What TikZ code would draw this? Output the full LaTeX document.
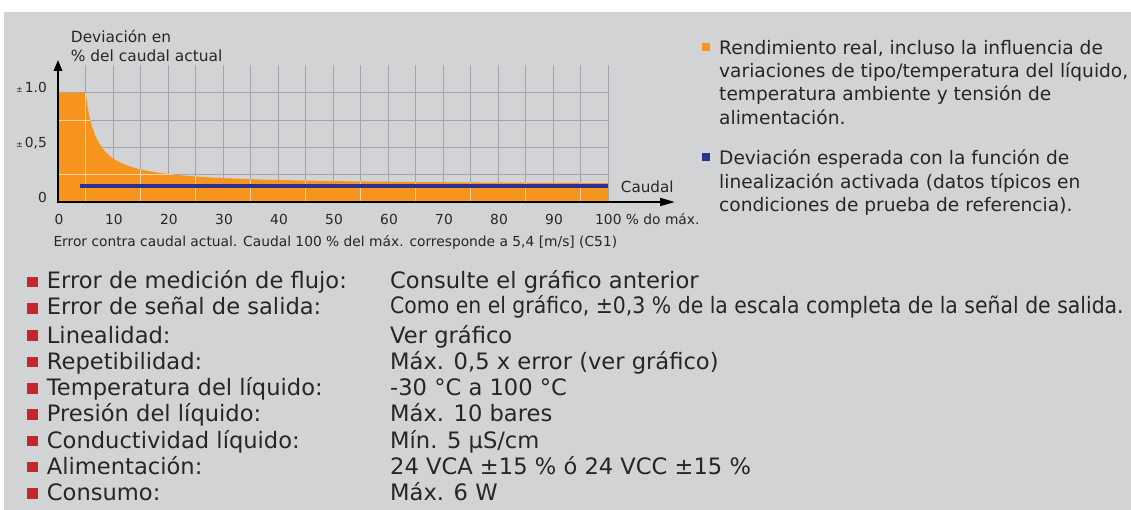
\documentclass[tikz,border=0pt]{standalone}
\usepackage{fontspec}
\setmainfont{DejaVu Sans}
\newfontfamily\condfont{DejaVu Sans}[FakeStretch=0.903]
\usetikzlibrary{arrows.meta}
\definecolor{bggrey}{HTML}{D1D3D4}
\definecolor{gridc}{HTML}{A2A4A7}
\definecolor{orangec}{HTML}{F7941D}
\definecolor{bluec}{HTML}{2E3192}
\definecolor{redc}{HTML}{C1272D}
\definecolor{txt}{HTML}{262626}
\tikzset{
  ax/.style={anchor=base west, inner sep=0pt, text=txt, font=\fontsize{15.4}{18}\selectfont},
  tk/.style={anchor=base, inner sep=0pt, text=txt, font=\fontsize{13.8}{16}\selectfont},
  lg/.style={anchor=base west, inner sep=0pt, text=txt, font=\fontsize{18.6}{22}\selectfont},
  lst/.style={anchor=base west, inner sep=0pt, text=txt, font=\fontsize{22.6}{26}\selectfont},
  sq/.style={inner sep=0pt, minimum size=8pt, draw=none},
  rsq/.style={inner sep=0pt, minimum size=10.5pt, draw=none, fill=redc},
  gridline/.style={draw=gridc, line width=1pt},
  minorlight/.style={draw=white, opacity=0.6, line width=1pt},
  axisline/.style={draw=black, line width=2pt}
}
\begin{document}
\begin{tikzpicture}[x=1pt,y=-1pt]
\fill[white] (0,0) rectangle (1131,510);
\useasboundingbox (0,0) rectangle (1131,510);
\fill[bggrey] (4,12) rectangle (1131,510);

% grid
\foreach \p in {5,10,...,100}
  \draw[gridline] ({58+5.5*\p},65) -- ({58+5.5*\p},202);
\foreach \v in {0.25,0.5,0.75,1}
  \draw[gridline] (58,{202-109.3*\v}) -- (608,{202-109.3*\v});

% orange region
\fill[orangec] (58,202) -- (58,92.7) -- (85.5,92.7)
  -- plot[domain=5:100,samples=160] ({58+5.5*\x},{202-109.3*(0.155+1.725/(\x-2.958))})
  -- (608,202) -- cycle;
\begin{scope}
\clip (58,202) -- (58,92.7) -- (85.5,92.7)
  -- plot[domain=5:100,samples=160] ({58+5.5*\x},{202-109.3*(0.155+1.725/(\x-2.958))})
  -- (608,202) -- cycle;
\foreach \p in {5,15,...,95}
  \draw[minorlight] ({58+5.5*\p},65) -- ({58+5.5*\p},202);
\foreach \v in {0.25,0.75}
  \draw[minorlight] (58,{202-109.3*\v}) -- (608,{202-109.3*\v});
\end{scope}

% blue line
\coordinate (bl1) at (80,186);
\coordinate (bl2) at (608,186);
\draw[bluec, line width=3.8pt] (bl1) -- (bl2);

% axes
\coordinate (O) at (58,202);
\coordinate (ytip) at (58,60);
\coordinate (xtip) at (675,202);
\draw[axisline, {Triangle[length=11pt,width=8.5pt]}-{Triangle[length=15pt,width=8pt]}] (ytip) -- (O) -- (xtip);

% axis texts
\node[ax] (ylab1) at (70.7,42.3) {Deviación en};
\node[ax] (ylab2) at (70.7,61.7) {\% del caudal actual};
\node[ax, font=\fontsize{15.2}{18}\selectfont] (xlab) at (620.7,192.7) {Caudal};
\node[tk, anchor=base east] (yt1) at (47,92.7) {{\fontsize{8}{8}\selectfont ±}\hspace{2pt}1.0};
\node[tk, anchor=base east] (yt2) at (47,147.3) {{\fontsize{8}{8}\selectfont ±}\hspace{2pt}0,5};
\node[tk, anchor=base east] (yt3) at (47,202.7) {0};
\foreach \p in {0,...,9}
  \node[tk] (xt\p) at ({59+55*\p},225) {\the\numexpr\p*10\relax};
\node[tk, anchor=base west] (xt10) at (595,225) {100 \% do máx.};
\node[tk, anchor=base west] (cap) at (53.3,246.7) {Error contra caudal actual. Caudal 100 \% del máx. corresponde a 5,4 [m/s] (C51)};

% legend
\node[sq, fill=orangec] (lb1) at (706,47) {};
\node[lg] (l1a) at (719,54.3) {Rendimiento real, incluso la influencia de};
\node[lg] (l1b) at (719,77.6) {variaciones de tipo/temperatura del líquido,};
\node[lg] (l1c) at (719,100.9) {temperatura ambiente y tensión de};
\node[lg] (l1d) at (719,124.2) {alimentación.};
\node[sq, fill=bluec] (lb2) at (706,157) {};
\node[lg] (l2a) at (719,165) {Deviación esperada con la función de};
\node[lg] (l2b) at (719,188.3) {linealización activada (datos típicos en};
\node[lg] (l2c) at (719,211.6) {condiciones de prueba de referencia).};

% list
\node[rsq] (r1) at (32.5,282) {};
\node[lst] (k1) at (46.7,288) {Error de medición de flujo:};
\node[lst] (v1) at (390,288) {Consulte el gráfico anterior};
\node[rsq] (r2) at (32.5,308.5) {};
\node[lst] (k2) at (46.7,314) {Error de señal de salida:};
\node[lst, font=\condfont\fontsize{22.6}{26}\selectfont] (v2) at (390,313) {Como en el gráfico, ±0,3 \% de la escala completa de la señal de salida.};
\node[rsq] (r3) at (32.5,335.5) {};
\node[lst] (k3) at (46.7,343) {Linealidad:};
\node[lst] (v3) at (390,343) {Ver gráfico};
\node[rsq] (r4) at (32.5,362) {};
\node[lst] (k4) at (46.7,369.3) {Repetibilidad:};
\node[lst] (v4) at (390,369.3) {Máx. 0,5 x error (ver gráfico)};
\node[rsq] (r5) at (32.5,388.3) {};
\node[lst] (k5) at (46.7,395.6) {Temperatura del líquido:};
\node[lst] (v5) at (390,395.6) {-30 °C a 100 °C};
\node[rsq] (r6) at (32.5,414.6) {};
\node[lst] (k6) at (46.7,421.9) {Presión del líquido:};
\node[lst] (v6) at (390,421.9) {Máx. 10 bares};
\node[rsq] (r7) at (32.5,440.9) {};
\node[lst] (k7) at (46.7,448.2) {Conductividad líquido:};
\node[lst] (v7) at (390,448.2) {Mín. 5 µS/cm};
\node[rsq] (r8) at (32.5,467.2) {};
\node[lst] (k8) at (46.7,474.5) {Alimentación:};
\node[lst] (v8) at (390,474.5) {24 VCA ±15 \% ó 24 VCC ±15 \%};
\node[rsq] (r9) at (32.5,493.5) {};
\node[lst] (k9) at (46.7,500.8) {Consumo:};
\node[lst] (v9) at (390,500.8) {Máx. 6 W};
\end{tikzpicture}
\end{document}
